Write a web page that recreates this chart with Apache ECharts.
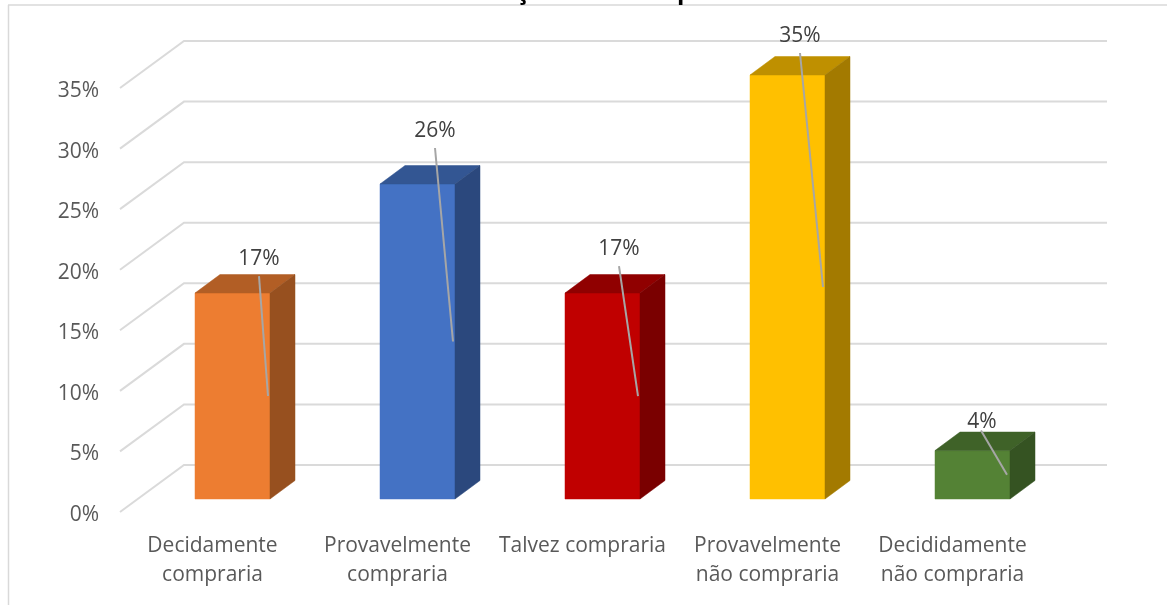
<!DOCTYPE html>
<html>
<head>
<meta charset="utf-8">
<style>html,body{margin:0;padding:0;background:#fff}#c{width:1167px;height:605px}</style>
<script src="https://cdn.jsdelivr.net/npm/echarts@6/dist/echarts.min.js"></script>
</head>
<body>
<div id="c"></div>
<script>
const categories = ['Decidamente\ncompraria','Provavelmente\ncompraria','Talvez compraria','Provavelmente\nnão compraria','Decididamente\nnão compraria'];
const values = [17, 26, 17, 35, 4];
const yTicks = [0, 5, 10, 15, 20, 25, 30, 35];
const frontColors = ['#ED7D31','#4472C4','#C00000','#FFC000','#548235'];
const topColors = ['#B25E25','#335693','#900000','#BF9000','#3F6228'];
const sideColors = ['#97501F','#2B487D','#7A0000','#A37A00','#355322'];
// pixel offsets of each data label from the top-left front corner of its bar
const labelDx = [64, 55, 54, 50, 47];
const labelDy = [-34, -53, -44, -39, -29];

const font = '"Open Sans", sans-serif';
const WALL_DX = 64, WALL_DY = -47;      // floor depth, front plane to back wall
const WALL_TRIM = 2;                    // back wall ends slightly short of the last category
const BAR_DX = 20, BAR_DY = -13;        // front of the floor to the front of a bar
const DEPTH_DX = 25, DEPTH_DY = -18.5;  // bar depth
const BAR_W = 75;

const chart = echarts.init(document.getElementById('c'), null, {renderer:'canvas'});
chart.setOption({
  animation:false,
  backgroundColor:'#fff',
  grid:{left:120, top:88, width:925, height:424, containLabel:false},
  xAxis:{
    type:'category', data:categories,
    axisLine:{show:false}, axisTick:{show:false},
    axisLabel:{color:'#595959', fontFamily:font, fontSize:21, lineHeight:29, margin:20, interval:0}
  },
  yAxis:{
    type:'value', min:0, max:35, interval:5,
    axisLine:{show:false}, axisTick:{show:false}, splitLine:{show:false},
    axisLabel:{margin:21, formatter:v=>`{a|${v}%}`,
      rich:{a:{color:'#595959', fontFamily:font, fontSize:21, padding:[6,0,0,0]}}}
  },
  graphic:[
    {type:'line', silent:true, shape:{x1:8,y1:5,x2:1167,y2:5}, style:{stroke:'#D9D9D9',lineWidth:1.5}},
    {type:'line', silent:true, shape:{x1:8.5,y1:5,x2:8.5,y2:605}, style:{stroke:'#D9D9D9',lineWidth:1.5}},
    {type:'text', silent:true, x:516, y:-20, style:{text:'ç',font:'bold 24px '+font,fill:'#000'}},
    {type:'text', silent:true, x:677, y:-20, style:{text:'p',font:'bold 24px '+font,fill:'#000'}}
  ],
  series:[
    {
      type:'custom', silent:true, z:1, clip:false,
      data:yTicks.map(t=>[t]),
      renderItem(params, api){
        const y = api.coord([0, api.value(0)])[1];
        const x0 = params.coordSys.x, x1 = x0 + params.coordSys.width - WALL_TRIM;
        return {type:'polyline', silent:true,
          shape:{points:[[x0,y],[x0+WALL_DX,y+WALL_DY],[x1+WALL_DX,y+WALL_DY]]},
          style:{stroke:'#DADADA',lineWidth:2,fill:null}};
      }
    },
    {
      type:'custom', silent:true, z:2, clip:false,
      encode:{x:0,y:1},
      data:values.map((v,i)=>[i,v]),
      renderItem(params, api){
        const i = params.dataIndex, v = api.value(1);
        const base = api.coord([i,0]), top = api.coord([i,v]);
        const l = base[0]-BAR_W/2+BAR_DX, r = l+BAR_W;
        const b = base[1]+BAR_DY, t = top[1]+BAR_DY;
        const dx = DEPTH_DX, dy = DEPTH_DY;
        const poly = (pts,fill)=>({type:'polygon',shape:{points:pts},style:{fill,stroke:fill,lineWidth:.5}});
        const mid = (b+t)/2;
        return {type:'group',children:[
          poly([[l,t],[r,t],[r,b],[l,b]],frontColors[i]),
          poly([[l,t],[l+dx,t+dy],[r+dx,t+dy],[r,t]],topColors[i]),
          poly([[r,t],[r+dx,t+dy],[r+dx,b+dy],[r,b]],sideColors[i]),
          {type:'line',shape:{x1:l+labelDx[i]+(i==4?-1:0),y1:t+labelDy[i]+(i==4?9:17),x2:r-(i==4?3:2),y2:mid},
           style:{stroke:'#A6A6A6',lineWidth:2}},
          {type:'text',x:l+labelDx[i],y:t+labelDy[i],
           style:{text:v+'%',font:'21px '+font,fill:'#404040',align:'center',verticalAlign:'middle'}}
        ]};
      }
    }
  ]
});
</script>
</body>
</html>
